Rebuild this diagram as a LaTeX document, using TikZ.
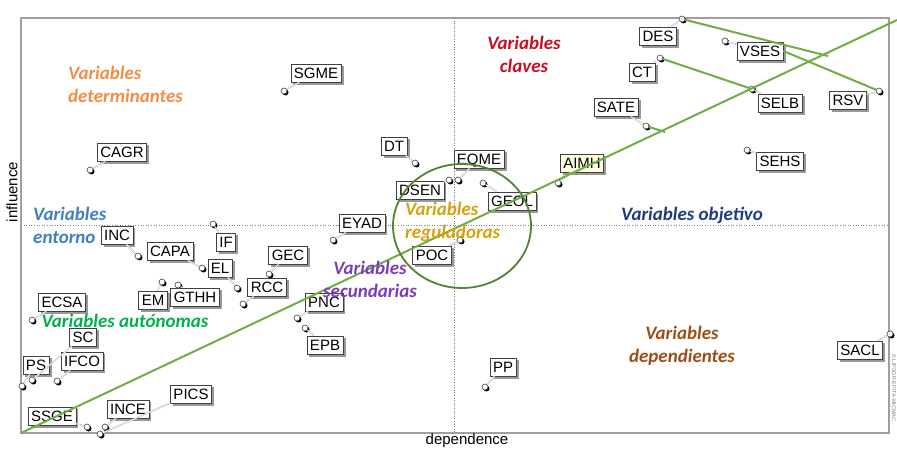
\documentclass[tikz,border=0pt]{standalone}
\usepackage{fontspec}
\usepackage{tikz}
\usetikzlibrary{shadows}
\newfontfamily\labelsans{Liberation Sans}
\newfontfamily\zonefont{Carlito}
\definecolor{zoneorange}{RGB}{243, 140, 70}
\definecolor{zonered}{RGB}{204, 12, 32}
\definecolor{zoneblue}{RGB}{62, 128, 196}
\definecolor{zonenavy}{RGB}{30, 58, 128}
\definecolor{zonegold}{RGB}{212, 162, 16}
\definecolor{zonepurple}{RGB}{122, 62, 186}
\definecolor{zonegreen}{RGB}{0, 176, 80}
\definecolor{zonebrown}{RGB}{156, 78, 24}
\definecolor{diaggreen}{RGB}{112, 173, 71}
\definecolor{ringgreen}{RGB}{84, 130, 53}
\definecolor{paleyellow}{RGB}{255, 255, 221}

\begin{document}
\begin{tikzpicture}[x=1pt, y=-1pt,
  varbox/.style={draw=black!75, fill=white, line width=0.6pt, inner xsep=3pt, inner ysep=3.5pt,
    text height=10.8pt, text depth=0.5pt, font=\labelsans\fontsize{15}{17}\selectfont,
    drop shadow={shadow xshift=2.5pt, shadow yshift=-2.5pt, fill=gray!80, opacity=1}},
  varpt/.style={circle, draw=black!75, fill=white, line width=0.6pt, inner sep=0pt, minimum size=6pt,
    drop shadow={shadow xshift=1.5pt, shadow yshift=-1.5pt, fill=black, opacity=1}},
  link/.style={draw=gray!55, double=white, double distance=0.5pt, line width=0.5pt},
  zone/.style={font=\zonefont\bfseries\itshape\fontsize{19}{23}\selectfont, inner sep=0pt},
  tie/.style={diaggreen, line width=2pt}]
  \useasboundingbox (0,0) rectangle (897,449);

  % Frame and axes
  \draw[gray!75, line width=1.2pt] (21,18) rectangle (889,433);
  \draw[gray, dotted, line width=0.6pt] (454,18) -- (454,433);
  \draw[gray, dotted, line width=0.6pt] (21,225) -- (889,225);

  % Points
  \node[varpt] (pSGME) at (284,91) {};
  \node[varpt] (pCAGR) at (90,170) {};
  \node[varpt] (pDT) at (415,163) {};
  \node[varpt] (pDSEN) at (449,180) {};
  \node[varpt] (pEQME) at (458,180) {};
  \node[varpt] (pGEOL) at (483,183) {};
  \node[varpt] (pAIMH) at (558,183) {};
  \node[varpt] (pPOC) at (460,240) {};
  \node[varpt] (pEYAD) at (333,240) {};
  \node[varpt] (pIF) at (213,224) {};
  \node[varpt] (pINC) at (138,256) {};
  \node[varpt] (pCAPA) at (202,268) {};
  \node[varpt] (pEL) at (237,288) {};
  \node[varpt] (pGEC) at (269,274) {};
  \node[varpt] (pRCC) at (243,304) {};
  \node[varpt] (pEM) at (162,282) {};
  \node[varpt] (pGTHH) at (178,285) {};
  \node[varpt] (pECSA) at (32,320) {};
  \node[varpt] (pSC) at (32,380) {};
  \node[varpt] (pPS) at (22,386) {};
  \node[varpt] (pIFCO) at (57,381) {};
  \node[varpt] (pSSGE) at (87,427) {};
  \node[varpt] (pINCE) at (105,427) {};
  \node[varpt] (pPICS) at (100,434) {};
  \node[varpt] (pPNC) at (297,318) {};
  \node[varpt] (pEPB) at (305,328) {};
  \node[varpt] (pPP) at (485,387) {};
  \node[varpt] (pSACL) at (890,334) {};
  \node[varpt] (pDES) at (682,19) {};
  \node[varpt] (pVSES) at (725,41) {};
  \node[varpt] (pCT) at (660,58) {};
  \node[varpt] (pSATE) at (646,126) {};
  \node[varpt] (pSELB) at (752,89) {};
  \node[varpt] (pRSV) at (879,91) {};
  \node[varpt] (pSEHS) at (747,150) {};

  % Labels
  \node[varbox] (SGME) at (316,73) {SGME};
  \node[varbox] (CAGR) at (122,152) {CAGR};
  \node[varbox] (DT) at (394,146) {DT};
  \node[varbox] (EQME) at (479,159) {EQME};
  \node[varbox] (DSEN) at (420,190) {DSEN};
  \node[varbox] (GEOL) at (512,201) {GEOL};
  \node[varbox, fill=paleyellow] (AIMH) at (582,163) {AIMH};
  \node[varbox] (POC) at (432,255) {POC};
  \node[varbox] (EYAD) at (362,223) {EYAD};
  \node[varbox] (IF) at (226,242) {IF};
  \node[varbox] (INC) at (117,235) {INC};
  \node[varbox] (CAPA) at (170,251) {CAPA};
  \node[varbox] (EL) at (220,268) {EL};
  \node[varbox] (GEC) at (288,255) {GEC};
  \node[varbox] (RCC) at (267,287) {RCC};
  \node[varbox] (EM) at (153,300) {EM};
  \node[varbox] (GTHH) at (195,297) {GTHH};
  \node[varbox] (ECSA) at (62,302) {ECSA};
  \node[varbox] (SC) at (83,337) {SC};
  \node[varbox] (PS) at (36,365) {PS};
  \node[varbox] (IFCO) at (82,361) {IFCO};
  \node[varbox] (SSGE) at (52,416) {SSGE};
  \node[varbox] (INCE) at (128,409) {INCE};
  \node[varbox] (PICS) at (191,394) {PICS};
  \node[varbox] (PNC) at (324,302) {PNC};
  \node[varbox] (EPB) at (325,345) {EPB};
  \node[varbox] (PP) at (503,367) {PP};
  \node[varbox] (SACL) at (860,350) {SACL};
  \node[varbox] (DES) at (658,36) {DES};
  \node[varbox] (VSES) at (760,51) {VSES};
  \node[varbox] (CT) at (642,72) {CT};
  \node[varbox] (SATE) at (616,107) {SATE};
  \node[varbox] (SELB) at (780,103) {SELB};
  \node[varbox] (RSV) at (848,100) {RSV};
  \node[varbox] (SEHS) at (780,161) {SEHS};

  % Point to label links
  \draw[link] (pSGME) -- (SGME);
  \draw[link] (pCAGR) -- (CAGR);
  \draw[link] (pDT) -- (DT);
  \draw[link] (pEQME) -- (EQME);
  \draw[link] (pDSEN) -- (DSEN);
  \draw[link] (pGEOL) -- (GEOL);
  \draw[link] (pAIMH) -- (AIMH);
  \draw[link] (pPOC) -- (POC);
  \draw[link] (pEYAD) -- (EYAD);
  \draw[link] (pIF) -- (IF);
  \draw[link] (pINC) -- (INC);
  \draw[link] (pCAPA) -- (CAPA);
  \draw[link] (pEL) -- (EL);
  \draw[link] (pGEC) -- (GEC);
  \draw[link] (pRCC) -- (RCC);
  \draw[link] (pEM) -- (EM);
  \draw[link] (pGTHH) -- (GTHH);
  \draw[link] (pECSA) -- (ECSA);
  \draw[link] (pSC) -- (SC);
  \draw[link] (pPS) -- (PS);
  \draw[link] (pIFCO) -- (IFCO);
  \draw[link] (pSSGE) -- (SSGE);
  \draw[link] (pINCE) -- (INCE);
  \draw[link] (pPICS) -- (PICS);
  \draw[link] (pPNC) -- (PNC);
  \draw[link] (pEPB) -- (EPB);
  \draw[link] (pPP) -- (PP);
  \draw[link] (pSACL) -- (SACL);
  \draw[link] (pDES) -- (DES);
  \draw[link] (pVSES) -- (VSES);
  \draw[link] (pCT) -- (CT);
  \draw[link] (pSATE) -- (SATE);
  \draw[link] (pSELB) -- (SELB);
  \draw[link] (pRSV) -- (RSV);
  \draw[link] (pSEHS) -- (SEHS);

  % Diagonal and projections
  \coordinate (diagstart) at (21,433);
  \coordinate (diagend) at (897,20);
  \coordinate (desfoot) at (828,56);
  \coordinate (satefoot) at (665,132);
  \draw[tie] (diagstart) -- (diagend);
  \draw[tie] (pDES) -- (desfoot);
  \draw[tie] (VSES.east) -- (pRSV);
  \draw[tie] (pCT) -- (pSELB);
  \draw[tie] (pSATE) -- (satefoot);

  % Regulating zone
  \draw[ringgreen, line width=1.8pt] (462,226) ellipse [x radius=69pt, y radius=62pt];

  % Zone names
  \node[zone, text=zoneorange, align=left, anchor=west] (determ) at (68,84) {Variables\\determinantes};
  \node[zone, text=zonered, align=center] (claves) at (524,54) {Variables\\claves};
  \node[zone, text=zoneblue, align=left, anchor=west] (entorno) at (33,225) {Variables\\entorno};
  \node[zone, text=zonenavy] (objetivo) at (692,215) {Variables objetivo};
  \node[zone, text=zonegold, align=left, anchor=west] (regul) at (405,222) {Variables\\reguladoras};
  \node[zone, text=zonepurple, align=center] (secund) at (370,279) {Variables\\secundarias};
  \node[zone, text=zonegreen] (auton) at (125,321) {Variables autónomas};
  \node[zone, text=zonebrown, align=center] (depend) at (682,346) {Variables\\dependientes};

  % Axis titles
  \node[font=\labelsans\fontsize{15}{17}\selectfont, rotate=90, inner sep=0pt] (inflab) at (12,192) {influence};
  \node[font=\labelsans\fontsize{15}{17}\selectfont, inner sep=0pt] (deplab) at (467,441) {dependence};
  \node[font=\labelsans\fontsize{5.5}{6}\selectfont, text=gray, rotate=-90, inner sep=0pt] (copy) at (894,388) {© LIPSOR-EPITA-MICMAC};
\end{tikzpicture}
\end{document}
